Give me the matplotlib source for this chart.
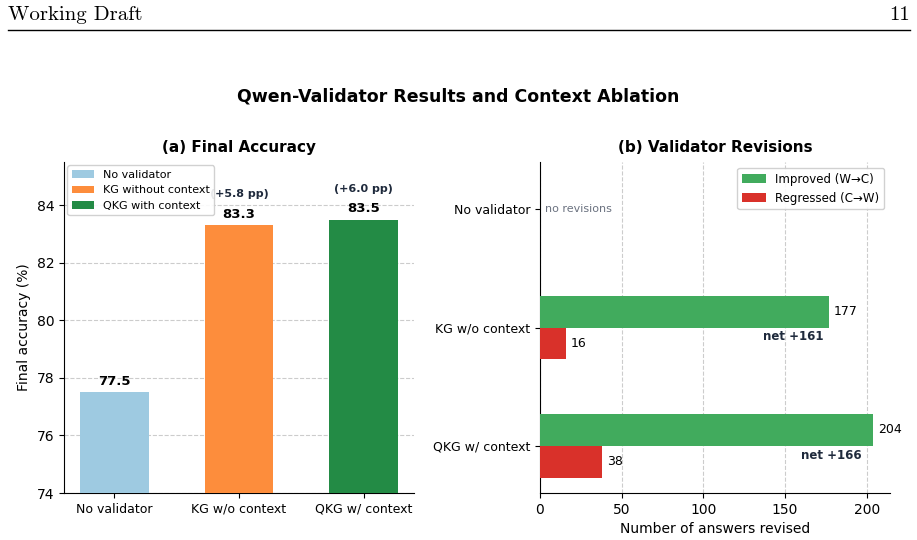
import matplotlib
matplotlib.use('Agg')
import matplotlib.pyplot as plt
from matplotlib.lines import Line2D
import numpy as np

# data
configs = ["No validator", "KG w/o context", "QKG w/ context"]
legend_names = ["No validator", "KG without context", "QKG with context"]
accuracy = [77.5, 83.3, 83.5]
deltas = [None, "(+5.8 pp)", "(+6.0 pp)"]
improved = [0, 177, 204]
regressed = [0, 16, 38]
net = ["", "net +161", "net +166"]

bar_colors = ["#9ecae1", "#fd8d3c", "#238b45"]
green = "#41ab5d"
red = "#d9312a"
navy = "#1f2a3c"

plt.rcParams['font.family'] = 'DejaVu Sans'

fig = plt.figure(figsize=(9.17, 5.40), dpi=100)
W, H = 917, 540

# page header
fig.text(8 / W, 1 - 15 / H, "Working Draft", fontsize=15, family='cmr10', va='center', ha='left')
fig.text(910 / W, 1 - 15 / H, "11", fontsize=15, family='cmr10', va='center', ha='right')
fig.add_artist(Line2D([8 / W, 910 / W], [1 - 30 / H, 1 - 30 / H], color='black', lw=1.0,
                      transform=fig.transFigure))

fig.text(0.5, 1 - 97 / H, "Qwen-Validator Results and Context Ablation",
         fontsize=12.5, fontweight='bold', ha='center', va='center')

# (a) final accuracy
ax1 = fig.add_axes([64 / W, 47 / H, 350 / W, 331 / H])
x = np.arange(len(configs))
bars = ax1.bar(x, accuracy, width=0.55, color=bar_colors, label=legend_names, zorder=3)
ax1.set_ylim(74, 85.5)
ax1.set_xticks(x)
ax1.set_xticklabels(configs, fontsize=9)
ax1.tick_params(axis='y', labelsize=10)
ax1.set_ylabel("Final accuracy (%)", fontsize=10)
ax1.set_title("(a) Final Accuracy", fontsize=11, fontweight='bold', pad=7)
ax1.yaxis.grid(True, linestyle='--', color='#cccccc', lw=0.8, zorder=0)
ax1.spines['top'].set_visible(False)
ax1.spines['right'].set_visible(False)
for i, v in enumerate(accuracy):
    ax1.text(i, v + 0.15, f"{v:.1f}", ha='center', va='bottom', fontsize=9.5, fontweight='bold')
    if deltas[i]:
        ax1.text(i, v + 0.9, deltas[i], ha='center', va='bottom', fontsize=8,
                 fontweight='bold', color=navy)
ax1.legend(handles=list(bars), labels=legend_names, loc='upper left', fontsize=8,
           framealpha=0.9, borderaxespad=0.3)

# (b) validator revisions
ax2 = fig.add_axes([540 / W, 47 / H, 350 / W, 331 / H])
y = np.arange(len(configs))
h = 0.27
ax2.barh(y - h / 2, improved, height=h, color=green, label="Improved (W\u2192C)", zorder=3)
ax2.barh(y + h / 2, regressed, height=h, color=red, label="Regressed (C\u2192W)", zorder=3)
ax2.invert_yaxis()
ax2.set_xlim(left=0)
ax2.set_yticks(y)
ax2.set_yticklabels(configs, fontsize=9)
ax2.tick_params(axis='x', labelsize=10)
ax2.set_xlabel("Number of answers revised", fontsize=10)
ax2.set_title("(b) Validator Revisions", fontsize=11, fontweight='bold', pad=7)
ax2.xaxis.grid(True, linestyle='--', color='#cccccc', lw=0.8, zorder=0)
ax2.spines['top'].set_visible(False)
ax2.spines['right'].set_visible(False)
for i in range(len(configs)):
    if improved[i] == 0 and regressed[i] == 0:
        ax2.text(3, i, "no revisions", va='center', ha='left', fontsize=8, color='#6b7280')
        continue
    ax2.text(improved[i] + 3, i - h / 2, str(improved[i]), va='center', fontsize=9)
    ax2.text(regressed[i] + 3, i + h / 2, str(regressed[i]), va='center', fontsize=9)
    ax2.text(improved[i] * 0.875, i + 0.08, net[i], va='center', ha='center', fontsize=8.5,
             fontweight='bold', color=navy)
ax2.legend(loc='upper right', fontsize=8.5, framealpha=0.9)

fig.savefig("out.png", dpi=100)
